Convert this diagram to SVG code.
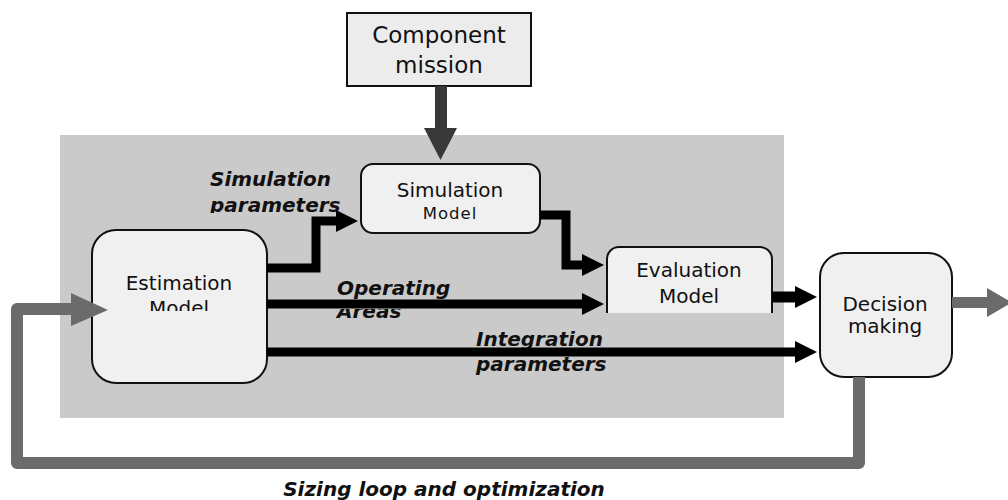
<svg xmlns="http://www.w3.org/2000/svg" width="1008" height="500" viewBox="0 0 1008 500">
<style>
.box{fill:#f0f0f0;stroke:#111;stroke-width:2}
.t{font-family:"DejaVu Sans",Verdana,sans-serif;font-size:20px;fill:#111;text-anchor:middle}
.lbl{font-family:"DejaVu Sans",Verdana,sans-serif;font-size:20px;font-weight:bold;font-style:italic;fill:#111}
.blk{fill:none;stroke:#000;stroke-width:9}
.gry{fill:none;stroke:#6b6b6b;stroke-width:12;stroke-linejoin:round}
</style>
<defs>
<marker id="ah" markerUnits="userSpaceOnUse" markerWidth="22" markerHeight="22" refX="5" refY="11" orient="auto" viewBox="0 0 22 22">
<path d="M0,0 L22,11 L0,22 Z" fill="#000"/>
</marker>
<clipPath id="cSimModel"><rect x="360" y="160" width="182" height="59"/></clipPath>
<clipPath id="cEstModel"><rect x="90" y="228" width="180" height="83"/></clipPath>
<clipPath id="cAreas"><rect x="320" y="309" width="160" height="20"/></clipPath>
<clipPath id="cSimPar"><rect x="190" y="160" width="170" height="53"/></clipPath>
<clipPath id="cEval"><rect x="600" y="240" width="180" height="73"/></clipPath>
</defs>

<rect id="bg" x="60" y="135" width="724" height="283" fill="#cacaca"/>

<g id="component-mission">
<rect x="347" y="13" width="184" height="73" fill="#ececec" stroke="#111" stroke-width="2"/>
<text class="t" x="439" y="43" style="font-size:23px">Component</text>
<text class="t" x="439" y="73" style="font-size:23px">mission</text>
</g>

<g id="simulation-model">
<rect class="box" x="361" y="164" width="179" height="69" rx="12"/>
<text class="t" x="450" y="197">Simulation</text>
<text class="t" x="450" y="219" style="font-size:16.5px;letter-spacing:1px" clip-path="url(#cSimModel)">Model</text>
</g>

<g id="estimation-model">
<rect class="box" x="92" y="230" width="175" height="153" rx="24"/>
<text class="t" x="179" y="290">Estimation</text>
<text class="t" x="179" y="315" clip-path="url(#cEstModel)">Model</text>
</g>

<g id="evaluation-model">
<rect class="box" x="607" y="247" width="165" height="80" rx="12" clip-path="url(#cEval)"/>
<text class="t" x="689" y="277">Evaluation</text>
<text class="t" x="689" y="303">Model</text>
</g>

<g id="decision-making">
<rect class="box" x="820" y="253" width="132" height="124" rx="24"/>
<text class="t" x="885" y="311">Decision</text>
<text class="t" x="885" y="333">making</text>
</g>

<g id="labels">
<text class="lbl" x="210" y="186">Simulation</text>
<text class="lbl" x="210" y="212" clip-path="url(#cSimPar)">parameters</text>
<text class="lbl" x="337" y="295">Operating</text>
<text class="lbl" x="337" y="318" clip-path="url(#cAreas)">Areas</text>
<text class="lbl" x="476" y="346">Integration</text>
<text class="lbl" x="476" y="371">parameters</text>
<text class="lbl" x="444" y="496" text-anchor="middle">Sizing loop and optimization</text>
</g>

<g id="connectors">
<!-- component mission to simulation -->
<rect x="435" y="86" width="12" height="44" fill="#383838"/>
<polygon points="424,128 457,128 440.5,160" fill="#383838"/>
<!-- estimation to simulation -->
<path class="blk" d="M267,268 H316 V221 H341" marker-end="url(#ah)"/>
<!-- simulation to evaluation -->
<path class="blk" d="M540,215 H566 V265 H587" marker-end="url(#ah)"/>
<!-- operating areas -->
<path class="blk" d="M267,304 H587" marker-end="url(#ah)"/>
<!-- evaluation to decision -->
<path class="blk" d="M772,297 H800" style="stroke-width:11" marker-end="url(#ah)"/>
<!-- integration parameters -->
<path class="blk" d="M267,352 H800" marker-end="url(#ah)"/>
<!-- output -->
<path d="M952,302.5 H990" fill="none" stroke="#6b6b6b" stroke-width="11"/>
<polygon points="987,288 1012,302.5 987,317" fill="#6b6b6b"/>
<!-- sizing loop -->
<path class="gry" d="M859,377 V463 H17 V309 H75"/>
<polygon points="71,293 108,310 71,326" fill="#6b6b6b"/>
</g>
</svg>
